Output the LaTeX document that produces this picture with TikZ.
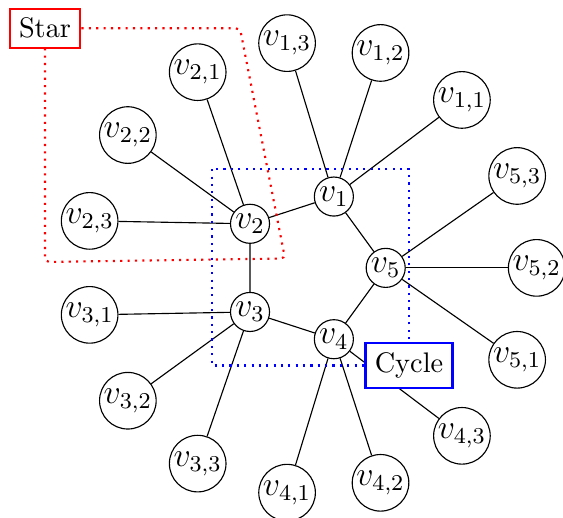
\documentclass[tikz,border=0pt]{standalone}
\usetikzlibrary{calc}
\begin{document}
\begin{tikzpicture}[x=0.3534pt,y=0.3534pt,
  vtx/.style={circle,draw,fill=white,inner sep=0pt,minimum size=13.8pt,font=\large},
  leaf/.style={circle,draw,fill=white,inner sep=0pt,minimum size=20pt,font=\large},
  lbl/.style={draw,thick,fill=white,inner sep=3.3pt},
  grp/.style={line width=0.75pt,dash pattern=on 0.75pt off 1.85pt}]
\useasboundingbox (0,0) rectangle (563,518);
\coordinate (C) at (310.7,250.1);
\foreach \i in {1,...,5}{
  \node[vtx] (v\i) at ($(C)+({72*\i}:75)$) {$v_{\i}$};
  \foreach \j in {1,2,3}{
    \node[leaf] (v\i\j) at ($(C)+({72*\i+24*(\j-2)}:226)$) {$v_{\i,\j}$};
    \draw (v\i) -- (v\i\j);
  }
}
\draw (v1) -- (v2) -- (v3) -- (v4) -- (v5) -- (v1);
\node[lbl,draw=red] (star) at (45,489.7) {Star};
\draw[grp,red,rounded corners=1.5pt] (star.east) -- (240,489.7) -- (285,259.5) -- (45,256) -- (star.south);
\coordinate (cyc) at (409,152.5);
\draw[grp,blue] (212.3,348.7) rectangle (cyc);
\node[lbl,draw=blue] (cycle) at (cyc) {Cycle};
\end{tikzpicture}
\end{document}
